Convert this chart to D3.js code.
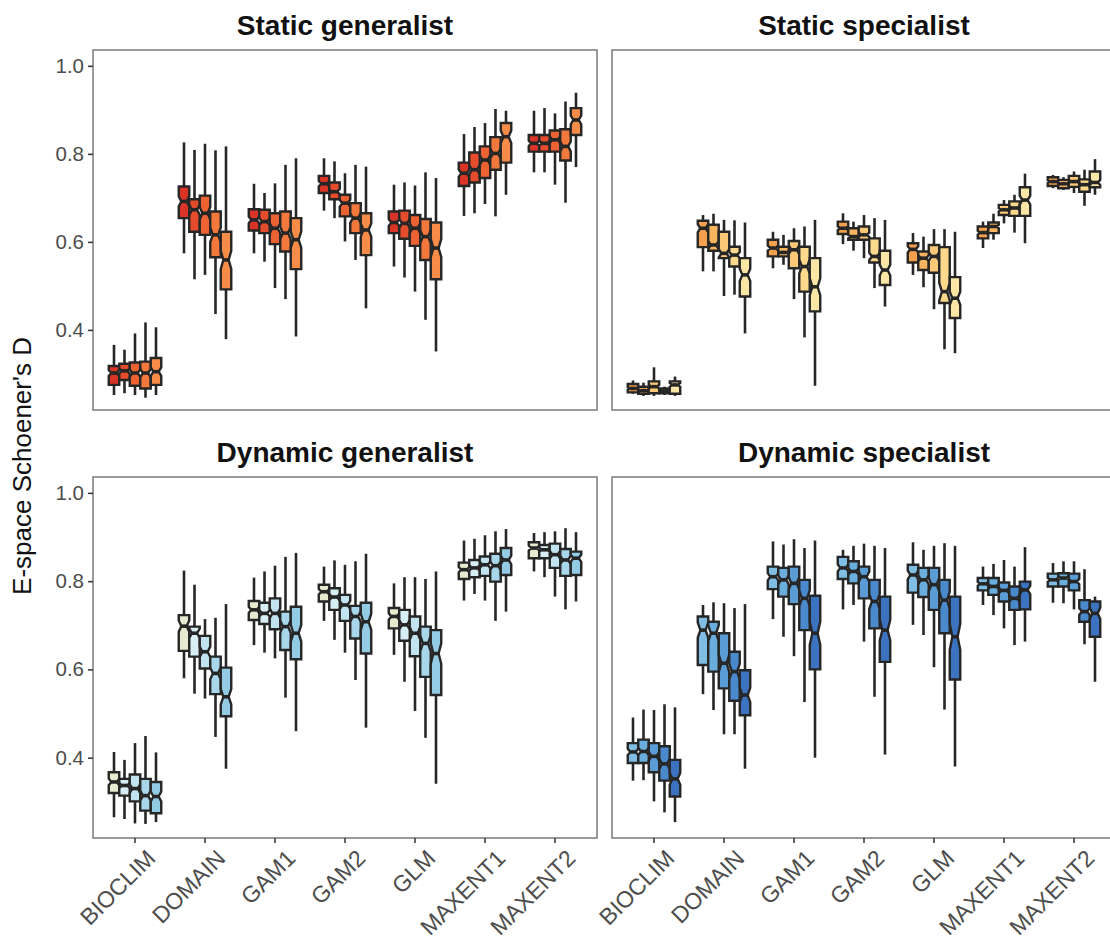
<!DOCTYPE html>
<html>
<head>
<meta charset="utf-8">
<script src="https://cdn.jsdelivr.net/npm/d3@7"></script>
<style>
  html, body { margin: 0; padding: 0; background: #ffffff; overflow: hidden; }
  svg { display: block; }
  text { font-family: "Liberation Sans", Arial, Helvetica, sans-serif; }
</style>
</head>
<body>
<svg id="chart" width="1110" height="940"></svg>
<script>
// Species distribution models on the x axis
const models = ["BIOCLIM", "DOMAIN", "GAM1", "GAM2", "GLM", "MAXENT1", "MAXENT2"];
// Five sampling levels, dodged within each model
const levels = ["L1", "L2", "L3", "L4", "L5"];
const yTicks = [0.4, 0.6, 0.8, 1.0];
const panelTitles = ["Static generalist", "Static specialist", "Dynamic generalist", "Dynamic specialist"];

// Each box: [lower whisker, Q1, median, Q3, upper whisker]
const staticGeneralist = [
  [[0.252,0.275,0.302,0.318,0.366],[0.256,0.286,0.307,0.323,0.355],[0.252,0.273,0.302,0.326,0.392],[0.246,0.267,0.302,0.328,0.417],[0.252,0.275,0.305,0.336,0.406]],
  [[0.574,0.654,0.692,0.726,0.826],[0.515,0.623,0.673,0.697,0.809],[0.525,0.616,0.665,0.705,0.823],[0.436,0.565,0.616,0.669,0.808],[0.379,0.492,0.559,0.623,0.817]],
  [[0.574,0.626,0.650,0.674,0.732],[0.555,0.620,0.646,0.673,0.711],[0.495,0.595,0.631,0.665,0.733],[0.470,0.578,0.620,0.669,0.775],[0.385,0.538,0.605,0.654,0.790]],
  [[0.671,0.711,0.732,0.750,0.790],[0.654,0.697,0.714,0.735,0.783],[0.601,0.658,0.688,0.707,0.756],[0.559,0.620,0.654,0.688,0.775],[0.449,0.570,0.627,0.665,0.771]],
  [[0.544,0.620,0.644,0.669,0.730],[0.519,0.607,0.642,0.671,0.735],[0.487,0.591,0.631,0.661,0.728],[0.423,0.559,0.612,0.652,0.758],[0.351,0.515,0.586,0.644,0.745]],
  [[0.659,0.727,0.756,0.780,0.845],[0.665,0.735,0.764,0.803,0.861],[0.686,0.745,0.786,0.817,0.870],[0.658,0.764,0.801,0.838,0.902],[0.707,0.780,0.839,0.870,0.898]],
  [[0.758,0.805,0.824,0.843,0.898],[0.758,0.805,0.824,0.843,0.904],[0.730,0.805,0.832,0.853,0.892],[0.689,0.785,0.817,0.856,0.919],[0.770,0.843,0.877,0.904,0.939]]
];
const staticSpecialist = [
  [[0.255,0.258,0.267,0.277,0.285],[0.250,0.255,0.262,0.271,0.280],[0.250,0.256,0.271,0.283,0.315],[0.252,0.256,0.262,0.267,0.271],[0.250,0.255,0.275,0.283,0.294]],
  [[0.533,0.588,0.631,0.648,0.661],[0.533,0.580,0.593,0.639,0.664],[0.477,0.563,0.574,0.623,0.650],[0.480,0.544,0.570,0.589,0.649],[0.392,0.476,0.525,0.563,0.644]],
  [[0.540,0.567,0.586,0.605,0.623],[0.548,0.567,0.576,0.589,0.616],[0.470,0.540,0.582,0.602,0.631],[0.383,0.487,0.544,0.589,0.635],[0.273,0.442,0.498,0.563,0.650]],
  [[0.595,0.618,0.631,0.646,0.665],[0.580,0.605,0.612,0.631,0.646],[0.563,0.605,0.616,0.635,0.661],[0.495,0.553,0.567,0.608,0.654],[0.453,0.502,0.536,0.580,0.650]],
  [[0.525,0.553,0.583,0.597,0.620],[0.497,0.536,0.563,0.578,0.612],[0.447,0.530,0.567,0.593,0.629],[0.356,0.461,0.487,0.588,0.629],[0.347,0.427,0.472,0.520,0.623]],
  [[0.586,0.608,0.621,0.635,0.646],[0.605,0.620,0.635,0.644,0.664],[0.642,0.661,0.673,0.684,0.695],[0.621,0.659,0.677,0.692,0.707],[0.597,0.659,0.695,0.724,0.755]],
  [[0.722,0.727,0.737,0.747,0.752],[0.718,0.722,0.732,0.741,0.747],[0.711,0.725,0.737,0.750,0.760],[0.682,0.714,0.730,0.742,0.764],[0.707,0.724,0.735,0.760,0.788]]
];
const dynamicGeneralist = [
  [[0.265,0.320,0.345,0.367,0.413],[0.261,0.314,0.337,0.352,0.395],[0.251,0.301,0.330,0.362,0.433],[0.250,0.280,0.314,0.352,0.449],[0.254,0.274,0.312,0.345,0.412]],
  [[0.580,0.642,0.698,0.723,0.824],[0.545,0.629,0.682,0.697,0.792],[0.534,0.602,0.640,0.676,0.714],[0.447,0.544,0.591,0.629,0.717],[0.375,0.494,0.538,0.604,0.748]],
  [[0.655,0.712,0.735,0.755,0.808],[0.638,0.703,0.727,0.751,0.822],[0.625,0.691,0.727,0.761,0.835],[0.536,0.644,0.697,0.731,0.855],[0.460,0.623,0.682,0.742,0.864]],
  [[0.710,0.754,0.776,0.792,0.833],[0.667,0.735,0.764,0.784,0.847],[0.638,0.710,0.746,0.769,0.837],[0.576,0.670,0.720,0.744,0.845],[0.468,0.636,0.708,0.751,0.862]],
  [[0.633,0.693,0.720,0.739,0.795],[0.572,0.665,0.701,0.735,0.809],[0.506,0.630,0.682,0.720,0.809],[0.445,0.583,0.659,0.697,0.805],[0.341,0.542,0.636,0.689,0.822]],
  [[0.756,0.805,0.826,0.842,0.892],[0.771,0.809,0.830,0.848,0.896],[0.756,0.812,0.837,0.856,0.904],[0.710,0.799,0.835,0.862,0.913],[0.731,0.814,0.848,0.875,0.918]],
  [[0.822,0.852,0.875,0.888,0.909],[0.809,0.852,0.871,0.882,0.911],[0.765,0.830,0.860,0.885,0.913],[0.736,0.812,0.848,0.873,0.920],[0.754,0.814,0.852,0.867,0.911]]
];
const dynamicSpecialist = [
  [[0.348,0.388,0.413,0.433,0.491],[0.349,0.388,0.414,0.441,0.509],[0.301,0.367,0.403,0.433,0.508],[0.276,0.348,0.386,0.426,0.521],[0.254,0.312,0.352,0.395,0.514]],
  [[0.544,0.610,0.689,0.720,0.746],[0.508,0.595,0.682,0.708,0.752],[0.453,0.557,0.614,0.682,0.750],[0.453,0.529,0.595,0.640,0.739],[0.375,0.496,0.542,0.598,0.748]],
  [[0.714,0.782,0.810,0.833,0.890],[0.674,0.765,0.803,0.830,0.883],[0.630,0.748,0.795,0.833,0.895],[0.526,0.689,0.761,0.803,0.875],[0.400,0.600,0.682,0.767,0.892]],
  [[0.736,0.805,0.830,0.855,0.871],[0.746,0.795,0.822,0.845,0.880],[0.663,0.761,0.810,0.833,0.885],[0.538,0.693,0.754,0.803,0.880],[0.407,0.617,0.689,0.765,0.875]],
  [[0.701,0.774,0.814,0.837,0.888],[0.678,0.764,0.803,0.830,0.871],[0.605,0.735,0.792,0.830,0.880],[0.509,0.682,0.757,0.803,0.886],[0.380,0.577,0.674,0.765,0.880]],
  [[0.746,0.779,0.794,0.807,0.833],[0.723,0.769,0.788,0.807,0.839],[0.693,0.754,0.779,0.797,0.848],[0.655,0.735,0.761,0.788,0.833],[0.663,0.736,0.780,0.799,0.877]],
  [[0.751,0.788,0.803,0.817,0.841],[0.750,0.788,0.807,0.818,0.845],[0.736,0.779,0.799,0.817,0.845],[0.657,0.708,0.731,0.757,0.827],[0.572,0.674,0.727,0.754,0.765]]
];

// Fill colours for the five levels in each panel
const colorsStaticGeneralist  = ["#da3427", "#e44c2c", "#ec6233", "#f2783b", "#f68c47"];
const colorsStaticSpecialist  = ["#f5a04f", "#f8b560", "#fbc877", "#fcd98b", "#fbe7a5"];
const colorsDynamicGeneralist = ["#e6ebcf", "#d8eef5", "#c1e4f0", "#a8d7eb", "#93cbe5"];
const colorsDynamicSpecialist = ["#7fbde3", "#6aaedd", "#5a9dd6", "#4a89cc", "#3b73c0"];

// Observations per box (notch half-height = 1.58 * IQR / sqrt(n))
const sampleSize = 100;

const panels = [
  { title: panelTitles[0], data: staticGeneralist,  colors: colorsStaticGeneralist,  col: 0, row: 0 },
  { title: panelTitles[1], data: staticSpecialist,  colors: colorsStaticSpecialist,  col: 1, row: 0 },
  { title: panelTitles[2], data: dynamicGeneralist, colors: colorsDynamicGeneralist, col: 0, row: 1 },
  { title: panelTitles[3], data: dynamicSpecialist, colors: colorsDynamicSpecialist, col: 1, row: 1 }
];

const svg = d3.select("#chart");
const colX = [93, 612];
const panelW = 504;
const rowY = [{ top: 50, bottom: 410 }, { top: 477, bottom: 838 }];
const yDomain = [0.218, 1.036];
const ink = "#262626";

panels.forEach(p => {
  const x0 = colX[p.col];
  const r = rowY[p.row];
  const g = svg.append("g");

  const x = d3.scaleBand().domain(models).range([x0, x0 + panelW]).paddingInner(0).paddingOuter(0.1);
  const dodgeW = x.bandwidth() * 0.75;
  const xd = d3.scaleBand().domain(levels).range([-dodgeW / 2, dodgeW / 2]);
  const y = d3.scaleLinear().domain(yDomain).range([r.bottom, r.top]);

  // panel frame
  g.append("rect")
    .attr("x", x0).attr("y", r.top)
    .attr("width", panelW).attr("height", r.bottom - r.top)
    .attr("fill", "none").attr("stroke", "#7a7a7a").attr("stroke-width", 1.5);

  // strip title
  g.append("text")
    .attr("x", x0 + panelW / 2).attr("y", r.top - 15)
    .attr("text-anchor", "middle")
    .attr("font-size", 28).attr("font-weight", "bold").attr("fill", "#111")
    .text(p.title);

  // y axis on left column
  if (p.col === 0) {
    const ya = d3.axisLeft(y).tickValues(yTicks).tickFormat(d3.format(".1f")).tickSize(5).tickPadding(4);
    const ag = g.append("g").attr("transform", `translate(${x0},0)`).call(ya);
    ag.select(".domain").remove();
    ag.selectAll(".tick line").attr("stroke", "#333").attr("stroke-width", 1.5);
    ag.selectAll(".tick text").attr("font-size", 20.5).attr("fill", "#4d4d4d")
      .attr("font-family", "'Liberation Sans', Arial, sans-serif");
  }

  // x axis on bottom row
  if (p.row === 1) {
    const xa = d3.axisBottom(x).tickSize(5).tickFormat("");
    const ag = g.append("g").attr("transform", `translate(0,${r.bottom})`).call(xa);
    ag.select(".domain").remove();
    ag.selectAll(".tick line").attr("stroke", "#333").attr("stroke-width", 1.5);
    models.forEach(m => {
      g.append("text")
        .attr("transform", `translate(${x(m) + x.bandwidth() / 2 + 10},${r.bottom + 10}) rotate(-45)`)
        .attr("text-anchor", "end")
        .attr("dy", "0.72em")
        .attr("font-size", 23).attr("fill", "#4d4d4d")
        .text(m);
    });
  }

  // notched boxes
  p.data.forEach((boxes, mi) => {
    const cx0 = x(models[mi]) + x.bandwidth() / 2;
    boxes.forEach((b, li) => {
      const [lo, q1, med, q3, hi] = b;
      const x1 = cx0 + xd(levels[li]);
      const x2 = x1 + xd.bandwidth();
      const cx = (x1 + x2) / 2;
      const indent = (x2 - x1) / 4;
      const half = 1.58 * (q3 - q1) / Math.sqrt(sampleSize);
      const nU = med + half, nL = med - half;
      const bg = g.append("g");

      bg.append("line").attr("x1", cx).attr("x2", cx).attr("y1", y(hi)).attr("y2", y(q3))
        .attr("stroke", ink).attr("stroke-width", 2.6);
      bg.append("line").attr("x1", cx).attr("x2", cx).attr("y1", y(q1)).attr("y2", y(lo))
        .attr("stroke", ink).attr("stroke-width", 2.6);

      const pts = [
        [x1, y(q3)], [x1, y(nU)], [x1 + indent, y(med)], [x1, y(nL)], [x1, y(q1)],
        [x2, y(q1)], [x2, y(nL)], [x2 - indent, y(med)], [x2, y(nU)], [x2, y(q3)]
      ];
      bg.append("path")
        .attr("d", d3.line()(pts) + "Z")
        .attr("fill", p.colors[li])
        .attr("stroke", ink).attr("stroke-width", 2.4).attr("stroke-linejoin", "miter");

      bg.append("line")
        .attr("x1", x1 + indent).attr("x2", x2 - indent)
        .attr("y1", y(med)).attr("y2", y(med))
        .attr("stroke", ink).attr("stroke-width", 3.6);
    });
  });
});

// shared y axis title
svg.append("text")
  .attr("transform", "translate(31,466) rotate(-90)")
  .attr("text-anchor", "middle")
  .attr("font-size", 26).attr("fill", "#111")
  .text("E-space Schoener's D");
</script>
</body>
</html>
